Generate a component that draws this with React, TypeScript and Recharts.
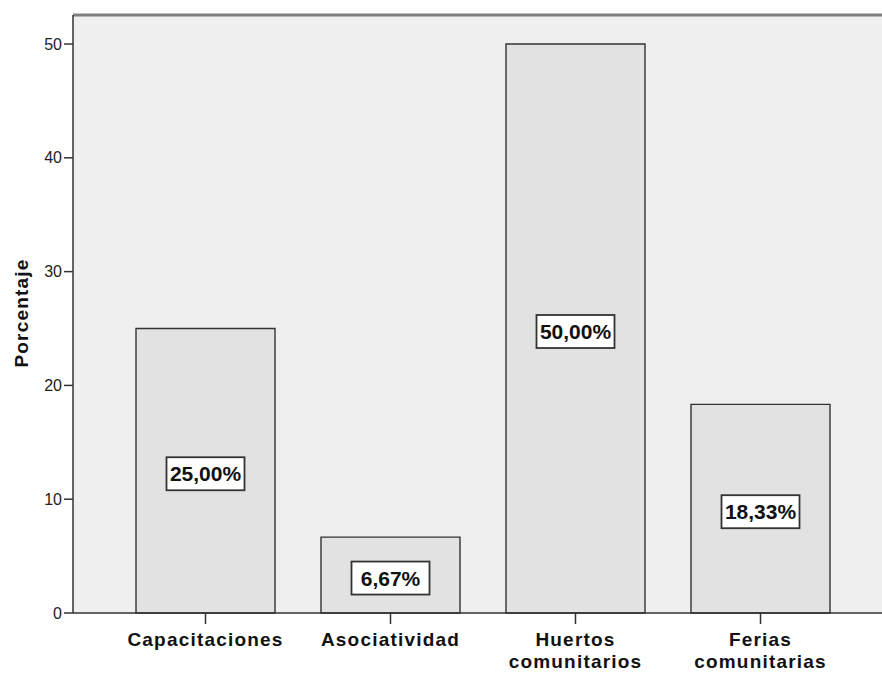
import React from "react";
import { BarChart, Bar, XAxis, YAxis, CartesianGrid, ReferenceLine, LabelList } from "recharts";

const categories = ["Capacitaciones", "Asociatividad", "Huertos\ncomunitarios", "Ferias\ncomunitarias"];
const percentages = [25, 6.67, 50, 18.33];
const yTicks = [0, 10, 20, 30, 40, 50];
const yMax = 52.55;

const data = categories.map((name, i) => ({ name, value: percentages[i] }));

const fmt = (v: number) => v.toFixed(2).replace(".", ",") + "%";

function CategoryTick({ x, y, payload }: any) {
  const lines = String(payload.value).split("\n");
  return (
    <text
      x={x}
      y={y}
      textAnchor="middle"
      fontFamily="Liberation Sans, Arial, sans-serif"
      fontWeight="bold"
      fontSize={19}
      letterSpacing={1.2}
      fill="#111"
    >
      {lines.map((l, i) => (
        <tspan key={i} x={x} dy={i === 0 ? 20 : 22}>
          {l}
        </tspan>
      ))}
    </text>
  );
}

function ValueBox({ x, y, width, height, value }: any) {
  const cx = x + width / 2;
  const cy = y + height / 2 + 3;
  const w = 78;
  const h = 33;
  return (
    <g>
      <rect x={cx - w / 2} y={cy - h / 2} width={w} height={h} fill="#fff" stroke="#333" strokeWidth={1.8} />
      <text
        x={cx}
        y={cy + 7.5}
        textAnchor="middle"
        fontFamily="Liberation Sans, Arial, sans-serif"
        fontWeight="bold"
        fontSize={21}
        fill="#111"
      >
        {fmt(value)}
      </text>
    </g>
  );
}

function YTitle() {
  return (
    <text
      x={21}
      y={313}
      transform="rotate(-90 21 313)"
      textAnchor="middle"
      dominantBaseline="central"
      fontFamily="Liberation Sans, Arial, sans-serif"
      fontWeight="bold"
      fontSize={19}
      letterSpacing={1.2}
      fill="#111"
    >
      Porcentaje
    </text>
  );
}

export default function App() {
  return (
    <div style={{ position: "fixed", left: 0, top: 0, width: 882, height: 673, overflow: "hidden", background: "#fff" }}>
      <BarChart width={910} height={673} data={data} margin={{ top: 15, right: 16, bottom: 0, left: 0 }}>
        <CartesianGrid horizontal={false} vertical={false} fill="#efefef" stroke="none" />
        <XAxis
          dataKey="name"
          height={60}
          padding={{ left: 40, right: 41 }}
          tick={<CategoryTick />}
          tickSize={11}
          tickLine={{ stroke: "#333", strokeWidth: 1.5 }}
          axisLine={{ stroke: "#333", strokeWidth: 1.5 }}
          interval={0}
        />
        <YAxis
          width={73}
          domain={[0, yMax]}
          ticks={yTicks}
          tickSize={9}
          tickMargin={2}
          tick={{ fontSize: 16, fill: "#222", fontFamily: "Liberation Sans, Arial, sans-serif" }}
          tickLine={{ stroke: "#333", strokeWidth: 1.5 }}
          axisLine={{ stroke: "#333", strokeWidth: 1.5 }}
          label={<YTitle />}
        />
        <ReferenceLine y={yMax} stroke="#808080" strokeWidth={3} ifOverflow="visible" />
        <Bar dataKey="value" barSize={139} fill="#e2e2e2" stroke="#333" strokeWidth={1.4} isAnimationActive={false}>
          <LabelList dataKey="value" content={<ValueBox />} />
        </Bar>
      </BarChart>
    </div>
  );
}
